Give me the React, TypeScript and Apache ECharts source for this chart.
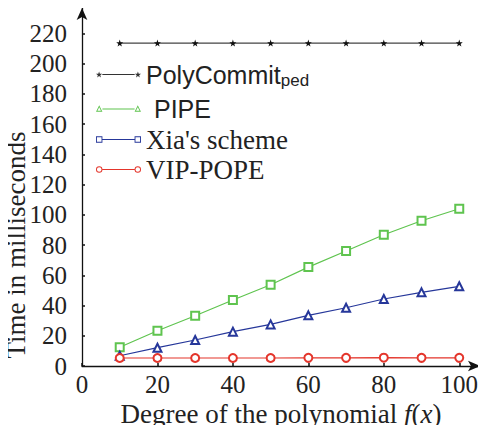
import React, { useEffect, useRef } from "react";
import * as echarts from "echarts";

const degrees = [10, 20, 30, 40, 50, 60, 70, 80, 90, 100];
const polyCommitPed = [213.5, 213.5, 213.5, 213.5, 213.5, 213.5, 213.5, 213.5, 213.5, 213.5];
const pipe = [12.4, 23.3, 33.2, 43.6, 53.7, 65.4, 76.0, 86.8, 96.0, 104.0];
const xiaScheme = [6.8, 12.1, 17.2, 22.7, 27.5, 33.5, 38.5, 44.3, 48.7, 52.7];
const vipPope = [5.3, 5.3, 5.3, 5.3, 5.3, 5.4, 5.4, 5.5, 5.4, 5.4];
const xTicks = [0, 20, 40, 60, 80, 100];
const yTicks = [0, 20, 40, 60, 80, 100, 120, 140, 160, 180, 200, 220];
const names = ["PolyCommit_ped", "PIPE", "Xia's scheme", "VIP-POPE"];

const SERIF = "'Liberation Serif', 'DejaVu Serif', serif";
const SANS = "'Liberation Sans', 'DejaVu Sans', sans-serif";

const starAt = (x: number) =>
  `M${x + 3.5},0 L${x + 4.32},2.37 L${x + 6.83},2.42 L${x + 4.83},3.93 L${x + 5.56},6.33 L${x + 3.5},4.9 L${x + 1.44},6.33 L${x + 2.17},3.93 L${x + 0.17},2.42 L${x + 2.68},2.37 Z`;
const squareAt = (x: number) =>
  `M${x},0 L${x + 7},0 L${x + 7},7 L${x},7 Z M${x + 1},1 L${x + 1},6 L${x + 6},6 L${x + 6},1 Z`;
const triAt = (x: number) =>
  `M${x + 3.5},0 L${x + 7},7 L${x},7 Z M${x + 3.5},2.2 L${x + 1.6},6 L${x + 5.4},6 Z`;
const circAt = (x: number) =>
  `M${x},3.5 A3.5,3.5 0 1,1 ${x + 7},3.5 A3.5,3.5 0 1,1 ${x},3.5 Z M${x + 1},3.5 A2.5,2.5 0 1,0 ${x + 6},3.5 A2.5,2.5 0 1,0 ${x + 1},3.5 Z`;
const segment = (y: number) => `M7,${y} L42,${y} L42,${y + 1} L7,${y + 1} Z`;

const iconStar = "path://" + starAt(0) + " " + segment(2.7) + " " + starAt(42);
const iconTri = "path://" + triAt(0) + " " + segment(3.5) + " " + triAt(42);
const iconSquare = "path://" + squareAt(0) + " " + segment(3) + " " + squareAt(42);
const iconCirc = "path://" + circAt(0) + " " + segment(3) + " " + circAt(42);

const COLORS = ["#333333", "#5fc44f", "#26379a", "#e4352b"];

export default function App() {
  const ref = useRef<HTMLDivElement>(null);
  useEffect(() => {
    if (!ref.current) return;
    const chart = echarts.init(ref.current, null, { renderer: "svg" });

    const legendRow = (
      idx: number,
      top: number,
      icon: string,
      fontFamily: string,
      extra: any = {}
    ) => ({
      data: [{ name: names[idx], icon, itemStyle: { color: COLORS[idx], borderWidth: 0 } }],
      left: 96,
      top,
      padding: 0,
      itemWidth: 45,
      itemHeight: 6.5,
      symbolKeepAspect: true,
      selectedMode: false,
      textStyle: { fontFamily, fontSize: 27, color: "#222", ...extra.textStyle },
      ...(extra.formatter ? { formatter: extra.formatter } : {}),
    });

    const mk = (vals: number[]) => degrees.map((d, i) => [d, vals[i]]);

    chart.setOption({
      animation: false,
      backgroundColor: "#ffffff",
      grid: { left: 82, right: 6, top: 8, bottom: 67, outerBoundsMode: "none", containLabel: false },
      legend: [
        legendRow(0, 62, iconStar, SANS, {
          formatter: () => "PolyCommit{sub|ped}",
          textStyle: {
            fontSize: 25,
            rich: { sub: { fontSize: 17, fontFamily: SANS, padding: [12, 0, 0, 0], color: "#222" } },
          },
        }),
        legendRow(1, 96, iconTri, SANS, { textStyle: { fontSize: 25, padding: [0, 0, 0, 8] } }),
        legendRow(2, 126, iconSquare, SERIF),
        legendRow(3, 156, iconCirc, SERIF),
      ],
      xAxis: {
        type: "value",
        min: 0,
        max: 105.5,
        interval: 20,
        name: "Degree of the polynomial {i|f}({i|x})",
        nameLocation: "middle",
        nameGap: 34,
        nameMoveOverlap: false,
        nameTextStyle: {
          fontFamily: SERIF,
          fontSize: 27,
          color: "#222",
          rich: { i: { fontFamily: SERIF, fontStyle: "italic", fontSize: 27, color: "#222" } },
        },
        splitLine: { show: false },
        axisLine: {
          show: true,
          onZero: false,
          symbol: ["none", "arrow"],
          symbolSize: [8, 12],
          lineStyle: { color: "#111", width: 1.3 },
        },
        axisTick: { show: true, inside: true, length: 3, customValues: xTicks, lineStyle: { color: "#111", width: 1.5 } },
        axisLabel: {
          customValues: xTicks,
          margin: 6,
          fontFamily: SERIF,
          fontSize: 25,
          color: "#222",
        },
      },
      yAxis: {
        type: "value",
        min: 0,
        max: 236.7,
        interval: 20,
        name: "Time in milliseconds",
        nameLocation: "middle",
        nameGap: 53,
        nameMoveOverlap: false,
        nameTextStyle: {
          fontFamily: SERIF,
          fontSize: 27,
          color: "#222",
          padding: [0, 116, 0, 0],
        },
        splitLine: { show: false },
        axisLine: {
          show: true,
          onZero: false,
          symbol: ["none", "arrow"],
          symbolSize: [8, 12],
          lineStyle: { color: "#111", width: 1.3 },
        },
        axisTick: { show: true, inside: true, length: 3, customValues: yTicks, lineStyle: { color: "#111", width: 1.5 } },
        axisLabel: {
          customValues: yTicks,
          margin: 15,
          fontFamily: SERIF,
          fontSize: 25,
          color: "#222",
        },
      },
      series: [
        {
          name: names[0],
          type: "line",
          data: mk(polyCommitPed),
          symbol: "path://" + starAt(0),
          symbolSize: 7,
          lineStyle: { color: "#444", width: 1.2 },
          itemStyle: { color: "#111" },
        },
        {
          name: names[1],
          type: "line",
          data: mk(pipe),
          symbol: "emptyRect",
          symbolSize: 8,
          lineStyle: { color: COLORS[1], width: 1.2 },
          itemStyle: { color: COLORS[1], borderWidth: 1.2 },
        },
        {
          name: names[2],
          type: "line",
          data: mk(xiaScheme),
          symbol: "emptyTriangle",
          symbolSize: 8,
          lineStyle: { color: COLORS[2], width: 1.2 },
          itemStyle: { color: COLORS[2], borderWidth: 1.2 },
        },
        {
          name: names[3],
          type: "line",
          data: mk(vipPope),
          symbol: "emptyCircle",
          symbolSize: 8,
          lineStyle: { color: COLORS[3], width: 1.2 },
          itemStyle: { color: COLORS[3], borderWidth: 1.2 },
        },
      ],
    });
    return () => chart.dispose();
  }, []);
  return <div ref={ref} style={{ width: 486, height: 433, margin: -8 }} />;
}
